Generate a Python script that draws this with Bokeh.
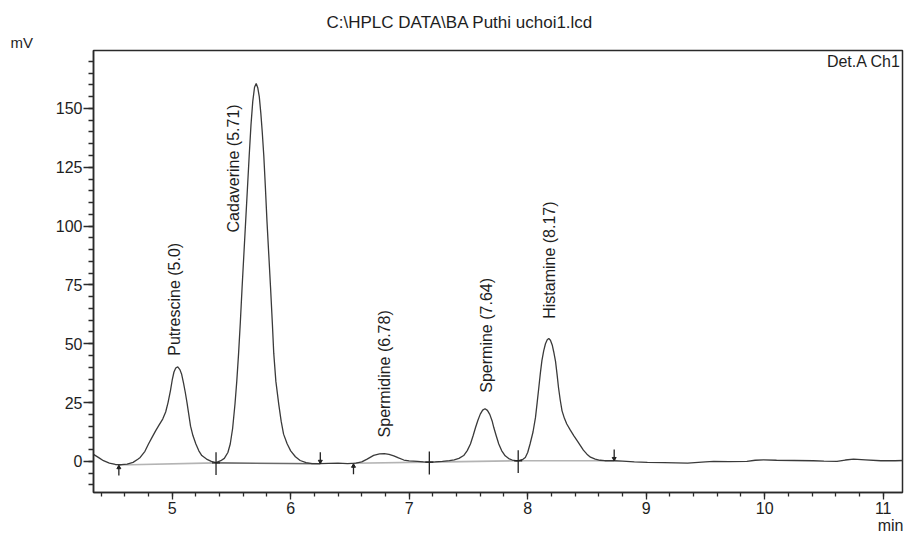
import math
from bokeh.plotting import figure
from bokeh.models import Range1d, FixedTicker, Label, ColumnDataSource, Title, LinearAxis
from bokeh.core.properties import value
from bokeh.embed import file_html
from bokeh.resources import INLINE

# ---------------- data ----------------
t_min = [4.336, 4.38, 4.42, 4.47, 4.52, 4.57, 4.62, 4.67, 4.71,
         4.73, 4.77, 4.80, 4.83, 4.86, 4.89, 4.92, 4.945, 4.965, 4.985, 5.00,
         5.015, 5.03, 5.047, 5.065, 5.08, 5.095, 5.11, 5.125, 5.14, 5.155,
         5.175, 5.20, 5.225, 5.25, 5.29, 5.33, 5.37,
         5.41, 5.44, 5.47, 5.49, 5.51, 5.53, 5.545, 5.56, 5.575, 5.59, 5.605,
         5.62, 5.635, 5.65, 5.665, 5.68, 5.695, 5.709, 5.722, 5.735, 5.748,
         5.76, 5.773, 5.787, 5.80, 5.815, 5.83, 5.845, 5.857, 5.875, 5.90,
         5.92, 5.94, 5.97, 6.00, 6.04, 6.08, 6.13, 6.18, 6.25, 6.32, 6.40,
         6.48, 6.55, 6.60, 6.645, 6.70, 6.75, 6.79, 6.83, 6.87, 6.91, 6.955,
         7.00, 7.07, 7.12, 7.17, 7.22, 7.28, 7.34, 7.38, 7.42, 7.46, 7.49,
         7.517, 7.54, 7.56, 7.58, 7.60, 7.62, 7.64, 7.66, 7.68, 7.70, 7.714,
         7.735, 7.756, 7.78, 7.81, 7.84, 7.87, 7.90, 7.93, 7.96, 7.98, 8.00,
         8.02, 8.045, 8.066, 8.08, 8.094, 8.107, 8.12, 8.135, 8.15, 8.165,
         8.178, 8.192, 8.207, 8.22, 8.235, 8.248, 8.26, 8.275, 8.29, 8.31,
         8.33, 8.36, 8.39, 8.42, 8.445, 8.47, 8.50, 8.53, 8.57, 8.61, 8.65,
         8.73, 8.80, 8.90, 9.01, 9.15, 9.35, 9.50, 9.57, 9.70, 9.85, 9.92,
         9.99, 10.10, 10.25, 10.41, 10.50, 10.61, 10.68, 10.75, 10.85, 10.98,
         11.10, 11.17]
signal_mv = [3.0, 1.6, 0.3, -0.7, -1.3, -1.4, -1.1, -0.4, 0.9,
             1.7, 4.3, 7.4, 10.2, 13.0, 15.5, 18.0, 21.0, 25.0, 30.0, 34.5,
             38.0, 39.7, 40.2, 39.0, 37.0, 33.5, 29.5, 25.0, 20.0, 15.0,
             11.0, 7.4, 4.5, 2.5, 1.0, 0.0, -0.5,
             0.3, 1.3, 3.8, 7.4, 14.0, 24.4, 34.0, 45.6, 59.0, 74.0, 88.0,
             102.0, 116.0, 130.0, 143.0, 153.0, 159.0, 160.6, 158.8, 155.0, 148.0,
             140.0, 130.0, 116.0, 102.0, 88.0, 74.0, 59.0, 46.0, 34.0, 24.0,
             17.0, 11.6, 7.5, 4.5, 2.0, 0.4, -0.5, -0.9, -0.9, -0.8, -0.7,
             -0.9, -0.7, -0.2, 1.0, 2.6, 3.2, 3.3, 3.0, 2.4, 1.5, 0.6,
             0.2, 0.0, -0.2, -0.3, -0.2, 0.0, 0.3, 0.7, 1.3, 2.5, 4.6,
             7.4, 11.0, 14.4, 17.5, 20.1, 21.8, 22.4, 21.7, 20.0, 17.2, 14.4,
             10.8, 7.4, 4.6, 2.4, 1.2, 0.6, 0.3, 0.4, 0.9, 1.7, 3.8,
             7.4, 12.5, 18.7, 25.0, 31.4, 37.5, 42.8, 47.0, 50.0, 51.7,
             52.2, 51.5, 49.5, 46.5, 42.5, 37.0, 31.4, 26.0, 21.5, 18.3,
             15.9, 13.3, 10.9, 8.6, 6.7, 4.8, 3.1, 1.8, 1.0, 0.5, 0.3,
             0.3, 0.1, -0.2, -0.4, -0.5, -0.7, -0.2, 0.0, -0.1, 0.0, 0.5,
             0.7, 0.5, 0.4, 0.3, 0.1, 0.0, 0.6, 1.0, 0.7, 0.3,
             0.3, 0.4]

# peaks (apex retention time / height) and their labels
peak_names = ["Putrescine (5.0)", "Cadaverine (5.71)", "Spermidine (6.78)",
              "Spermine (7.64)", "Histamine (8.17)"]
peak_rt = [5.047, 5.709, 6.79, 7.64, 8.178]
peak_mv = [40.2, 160.6, 3.3, 22.4, 52.2]

# integration baselines: start/end time and level
base_t0 = [4.55, 5.37, 6.53, 7.17, 7.92]
base_t1 = [5.37, 6.25, 7.17, 7.92, 8.73]
base_v0 = [-1.5, -0.6, -0.8, -0.3, 0.3]
base_v1 = [-0.6, -1.0, -0.3, 0.3, 0.3]
base_dark = [False, True, False, False, False]

# peak start / separation / end marks
mark_t = [4.55, 5.37, 6.25, 6.53, 7.17, 7.92, 8.73]
mark_v = [-1.4, -0.6, -0.9, -0.8, -0.3, 0.3, 0.3]
mark_kind = ["start", "cross", "end", "start", "cross", "cross", "end"]

x_ticks = [5, 6, 7, 8, 9, 10, 11]
x_minor = [4.4 + 0.2 * i for i in range(34)]
y_ticks = [0, 25, 50, 75, 100, 125, 150]
y_minor = [-10 + 5 * i for i in range(37)]

title_text = "C:\\HPLC DATA\\BA Puthi uchoi1.lcd"
y_unit = "mV"
x_unit = "min"
detector = "Det.A Ch1"

FONT = "Liberation Sans"
TXT = "#1e1e1e"
AX = "#2a2a2a"

# ---------------- figure ----------------
p = figure(width=904, height=536, output_backend="svg", toolbar_location=None,
           x_range=Range1d(4.336, 11.163), y_range=Range1d(-13.2, 174.6),
           min_border_left=93, min_border_right=2, min_border_top=50,
           min_border_bottom=44)
p.grid.visible = False
p.outline_line_color = AX
p.outline_line_width = 1.5
p.background_fill_color = "white"

for ax in (p.xaxis[0], p.yaxis[0]):
    ax.axis_line_color = AX
    ax.axis_line_width = 1.5
    ax.major_tick_line_color = AX
    ax.minor_tick_line_color = AX
    ax.major_tick_line_width = 1.3
    ax.minor_tick_line_width = 1.3
    ax.major_tick_in = 0
    ax.minor_tick_in = 0
    ax.major_label_text_font = FONT
    ax.major_label_text_font_size = "16px"
    ax.major_label_text_color = TXT

p.xaxis.ticker = FixedTicker(ticks=x_ticks, minor_ticks=x_minor)
p.yaxis.ticker = FixedTicker(ticks=y_ticks, minor_ticks=y_minor)
p.xaxis.major_tick_out = 7
p.xaxis.minor_tick_out = 4
p.xaxis.major_label_standoff = 2
p.yaxis.major_tick_out = 10
p.yaxis.minor_tick_out = 5
p.yaxis.major_label_standoff = 1

# "min" unit label as a bare extra axis under the time axis
min_tick = 11.062
unit_axis = LinearAxis(ticker=FixedTicker(ticks=[min_tick], minor_ticks=[]),
                       major_label_overrides={min_tick: x_unit},
                       axis_line_color=None, major_tick_line_color=None,
                       minor_tick_line_color=None, major_tick_out=0,
                       major_tick_in=0, major_label_standoff=0,
                       major_label_text_font=FONT,
                       major_label_text_font_size="16px",
                       major_label_text_color=TXT)
p.add_layout(unit_axis, "below")

# titles above the frame (first added sits nearest the frame)
p.add_layout(Title(text=y_unit, align="left", offset=-83, standoff=0,
                   text_font=FONT, text_font_size="15px", text_font_style="normal",
                   text_color=TXT), "above")
p.add_layout(Title(text=title_text, align="left", offset=233, standoff=0,
                   text_font=FONT, text_font_size="17px", text_font_style="normal",
                   text_color=TXT), "above")

# baselines
for t0, t1, v0, v1, dark in zip(base_t0, base_t1, base_v0, base_v1, base_dark):
    p.segment(x0=[t0], y0=[v0], x1=[t1], y1=[v1],
              line_color="#6a6a6a" if dark else "#b4b4b4", line_width=1.6)

# trace
p.line(t_min, signal_mv, line_color="#3a3a3a", line_width=1.3)

# marks
ms_x0, ms_y0, ms_y1 = [], [], []
up_x, up_y, dn_x, dn_y, cr_x, cr_y = [], [], [], [], [], []
for t, v, k in zip(mark_t, mark_v, mark_kind):
    if k == "start":
        ms_x0.append(t); ms_y0.append(v - 4.6); ms_y1.append(v - 0.4)
        up_x.append(t); up_y.append(v - 1.2)
    elif k == "end":
        ms_x0.append(t); ms_y0.append(v + 4.8); ms_y1.append(v)
        dn_x.append(t); dn_y.append(v + 0.9)
    else:
        ms_x0.append(t); ms_y0.append(v + 4.5); ms_y1.append(v - 5.2)
        cr_x.append(t); cr_y.append(v)
p.segment(x0=ms_x0, y0=ms_y0, x1=ms_x0, y1=ms_y1, line_color="#222222", line_width=1.3)
p.scatter(up_x, up_y, marker="triangle", size=4, color="#222222")
p.scatter(dn_x, dn_y, marker="inverted_triangle", size=4, color="#222222")
p.scatter(cr_x, cr_y, marker="dash", size=8, line_color="#222222", line_width=1.4)

# peak labels (vertical)
lab_dx = [-0.027, -0.192, 0.0, 0.012, 0.010]
lab_dy = [4.7, -63.3, 6.9, 6.8, 8.4]
src = ColumnDataSource(dict(
    x=[r + d for r, d in zip(peak_rt, lab_dx)],
    y=[h + d for h, d in zip(peak_mv, lab_dy)],
    text=peak_names))
p.text(x="x", y="y", text="text", source=src, angle=math.pi / 2,
       text_align="left", text_baseline="middle", text_font=value(FONT),
       text_font_size="16px", text_color=TXT)

# detector label inside the frame
p.add_layout(Label(x=11.148, y=169.9, text=detector, text_align="right",
                   text_baseline="middle", text_font=FONT, text_font_size="16px",
                   text_color=TXT))

open("out.html", "w").write(file_html(p, INLINE))
